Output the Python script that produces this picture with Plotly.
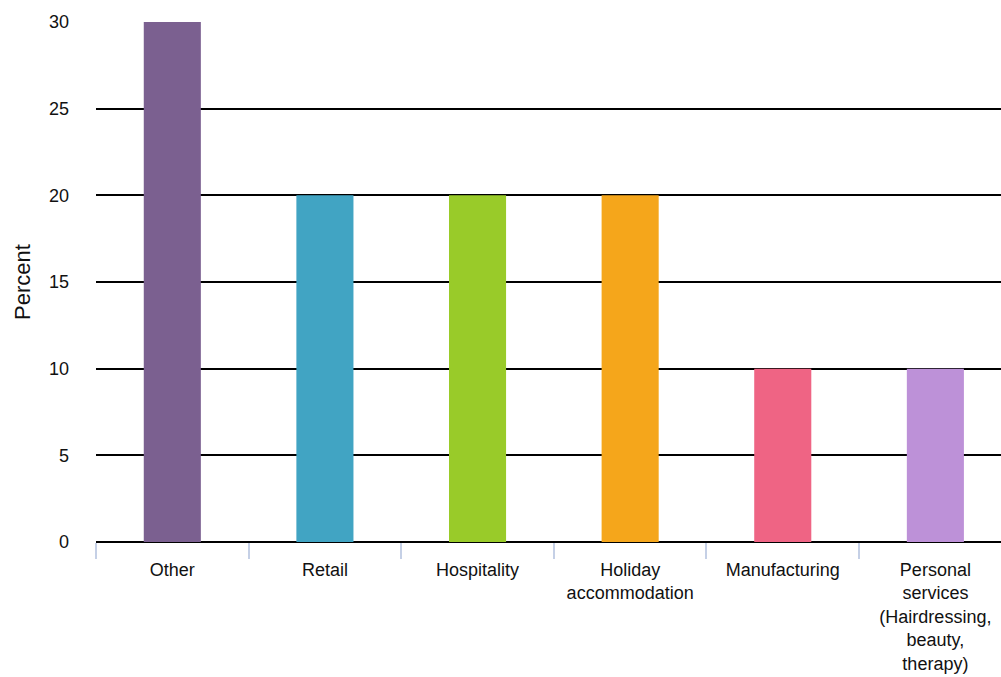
import plotly.graph_objects as go

# Share of businesses by sector
categories = ["Other", "Retail", "Hospitality", "Holiday<br>accommodation",
              "Manufacturing", "Personal<br>services<br>(Hairdressing,<br>beauty,<br>therapy)"]
percent = [30, 20, 20, 20, 10, 10]
bar_colors = ["#7B6090", "#41A4C3", "#99CB29", "#F5A61B", "#EF6484", "#BD91D8"]
y_ticks = [0, 5, 10, 15, 20, 25, 30]

fig = go.Figure(
    go.Bar(
        x=categories,
        y=percent,
        marker=dict(color=bar_colors, line=dict(width=0)),
        width=0.374,
    )
)

fig.update_layout(
    width=1001,
    height=677,
    margin=dict(l=96, r=0, t=22, b=135),
    paper_bgcolor="white",
    plot_bgcolor="white",
    showlegend=False,
    font=dict(family="Liberation Sans, Arial, sans-serif", size=18, color="#111111"),
)

fig.update_xaxes(
    range=[-0.5, 5.43],
    tickson="boundaries",
    ticks="outside",
    ticklen=16,
    tickwidth=1.5,
    tickcolor="#C5D0E6",
    showgrid=False,
    showline=False,
    ticklabelstandoff=15,
    tickfont=dict(size=18),
)

fig.update_yaxes(
    range=[0, 30],
    tickvals=y_ticks,
    showgrid=True,
    gridcolor="#000000",
    gridwidth=2,
    zeroline=True,
    zerolinecolor="#000000",
    zerolinewidth=2,
    showline=False,
    ticks="",
    ticklabelstandoff=26,
    tickfont=dict(size=18),
)

# Vertical axis title placed as an annotation
fig.add_annotation(
    text="Percent",
    textangle=-90,
    xref="paper", yref="paper",
    x=-74 / 905, y=0.5,
    xanchor="center", yanchor="middle",
    showarrow=False,
    font=dict(size=22),
)

fig.write_html("out.html")
